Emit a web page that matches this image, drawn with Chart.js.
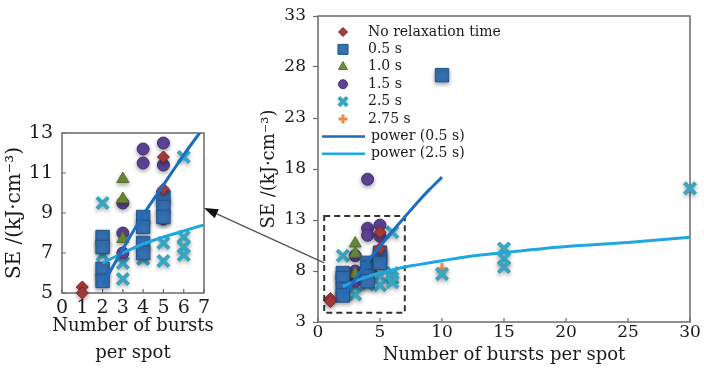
<!DOCTYPE html>
<html>
<head>
<meta charset="utf-8">
<script src="https://cdn.jsdelivr.net/npm/chart.js@4.4.1/dist/chart.umd.min.js"></script>
<style>
  html, body { margin: 0; padding: 0; background: #fff; }
  #wrap { position: relative; width: 704px; height: 368px; overflow: hidden; }
  #main { position: absolute; left: 0; top: 0; }
  #inset { position: absolute; left: 0; top: 110px; }
</style>
</head>
<body>
<div id="wrap">
  <canvas id="main" width="704" height="368"></canvas>
  <canvas id="inset" width="232" height="258"></canvas>
</div>
<script>
// data: [bursts per spot, SE]
var noRelaxation = [[1, 5.3], [1, 5.0], [5, 11.8], [5, 10.2]];
var relax05 = [[2, 7.8], [2, 7.3], [2, 6.2], [2, 5.6], [4, 8.8], [4, 8.3], [4, 7.5], [4, 7.0],
               [5, 9.8], [5, 9.3], [5, 8.8], [10, 27.2]];
var relax10 = [[2, 6.1], [2, 5.8], [3, 10.7], [3, 9.7], [3, 7.7]];
var relax15 = [[2, 7.4], [3, 9.5], [3, 8.0], [3, 7.0], [4, 12.2], [4, 11.5], [4, 17.0],
               [5, 12.5], [5, 11.4], [5, 9.7], [5, 8.7]];
var relax25 = [[2, 9.5], [2, 6.9], [2, 6.3], [3, 6.5], [3, 5.7], [4, 7.0], [4, 6.7], [5, 7.5], [5, 6.6],
               [6, 11.8], [6, 7.8], [6, 7.3], [6, 6.9], [10, 7.7], [15, 10.2], [15, 9.2], [15, 8.4], [30, 16.1]];
var relax275 = [[10, 8.2]];
// power fit curves
var fit05 = [[2, 5.4], [3, 7.2], [4, 8.9], [5, 10.4], [6, 11.9], [7, 13.3], [8, 14.7], [9, 16.0], [10, 17.2]];
var fit25 = [[2, 6.5], [3, 7.0], [4, 7.45], [5, 7.8], [6, 8.1], [7, 8.4], [8, 8.6], [10, 9.0], [12, 9.4],
             [15, 9.8], [20, 10.4], [25, 10.8], [30, 11.3]];

var mainXTicks = [0, 5, 10, 15, 20, 25, 30];
var mainYTicks = [3, 8, 13, 18, 23, 28, 33];
var insetXTicks = [0, 1, 2, 3, 4, 5, 6, 7];
var insetYTicks = [5, 7, 9, 11, 13];

// zoom box on the main chart and the arrow ends (data units)
var zoomBox = { x0: 0.5, x1: 7, y0: 3.9, y1: 13.4 };
var arrowFrom = [0.5, 8.8];   // main chart
var arrowTo = [7, 9.25];      // inset chart

var FONT = "'DejaVu Serif', serif";
var TXT = '#1a1a1a';
var INSET_LEFT = 0, INSET_TOP = 110;
var insetXTitle = ['Number of bursts', 'per spot'];

var series = [
  { label: 'No relaxation time', data: noRelaxation, style: 'rectRot', r: 6, fill: '#a63c3c', edge: '#7c2828', bw: 1 },
  { label: '0.5 s', data: relax05, style: 'rect', r: 9.5, fill: '#3570b1', edge: '#23548c', bw: 1 },
  { label: '1.0 s', data: relax10, style: 'triangle', r: 7, fill: '#6d8f3b', edge: '#55722b', bw: 1 },
  { label: '1.5 s', data: relax15, style: 'circle', r: 6, fill: '#5c4494', edge: '#43306f', bw: 1 },
  { label: '2.5 s', data: relax25, style: 'crossRot', r: 8, fill: '#3aa5c0', edge: '#3aa5c0', bw: 4 },
  { label: '2.75 s', data: relax275, style: 'cross', r: 6, fill: '#ec8a44', edge: '#ec8a44', bw: 3 }
];
var fits = [
  { label: 'power (0.5 s)', data: fit05, color: '#1c6dbf' },
  { label: 'power (2.5 s)', data: fit25, color: '#1ea8df' }
];

function pts(arr) {
  return arr.map(function (p) { return { x: p[0], y: p[1] }; });
}

function makeDatasets() {
  var out = series.map(function (s) {
    return {
      label: s.label,
      data: pts(s.data),
      pointStyle: s.style,
      pointRadius: s.r,
      pointHoverRadius: s.r,
      backgroundColor: s.fill,
      borderColor: s.edge,
      pointBorderWidth: s.bw,
      showLine: false,
      order: 2,
      clip: false,
      shadow: true
    };
  });
  fits.forEach(function (f) {
    out.push({
      label: f.label,
      data: pts(f.data),
      showLine: true,
      pointRadius: 0,
      borderColor: f.color,
      backgroundColor: f.color,
      borderWidth: 3,
      cubicInterpolationMode: 'monotone',
      order: 1
    });
  });
  return out;
}

function tickList(arr) {
  return function (scale) {
    scale.ticks = arr.map(function (v) { return { value: v }; });
  };
}

// plot frame, drawn under the markers
var frame = {
  id: 'frame',
  beforeDatasetsDraw: function (chart) {
    var a = chart.chartArea, ctx = chart.ctx;
    ctx.save();
    ctx.strokeStyle = '#6a6a6a';
    ctx.lineWidth = 1.5;
    ctx.strokeRect(a.left, a.top, a.right - a.left, a.bottom - a.top);
    ctx.restore();
  }
};

// short tick marks pointing into the plot
var innerTicks = {
  id: 'innerTicks',
  beforeDatasetsDraw: function (chart, args, opts) {
    var a = chart.chartArea, ctx = chart.ctx;
    ctx.save();
    ctx.strokeStyle = '#6a6a6a';
    ctx.lineWidth = 1.2;
    ctx.beginPath();
    if (opts.x) {
      chart.scales.x.ticks.forEach(function (t) {
        var px = chart.scales.x.getPixelForValue(t.value);
        ctx.moveTo(px, a.bottom);
        ctx.lineTo(px, a.bottom - 4);
      });
    }
    if (opts.y) {
      chart.scales.y.ticks.forEach(function (t) {
        var py = chart.scales.y.getPixelForValue(t.value);
        ctx.moveTo(a.left, py);
        ctx.lineTo(a.left + 4, py);
      });
    }
    ctx.stroke();
    ctx.restore();
  }
};

// soft drop shadow under the markers
var markerShadow = {
  id: 'markerShadow',
  beforeDatasetDraw: function (chart, args) {
    var ds = chart.data.datasets[args.index];
    if (!ds.shadow) return;
    var ctx = chart.ctx;
    ctx.save();
    ctx.shadowColor = 'rgba(0,0,0,0.35)';
    ctx.shadowBlur = 4;
    ctx.shadowOffsetY = 2;
  },
  afterDatasetDraw: function (chart, args) {
    var ds = chart.data.datasets[args.index];
    if (!ds.shadow) return;
    chart.ctx.restore();
  }
};

// two-line x title of the inset, allowed to run wider than the plot
var wideXTitle = {
  id: 'wideXTitle',
  afterDraw: function (chart) {
    var a = chart.chartArea, ctx = chart.ctx;
    var cx = (a.left + a.right) / 2;
    ctx.save();
    ctx.font = "18px " + FONT;
    ctx.fillStyle = TXT;
    ctx.textAlign = 'center';
    ctx.textBaseline = 'middle';
    insetXTitle.forEach(function (line, i) {
      ctx.fillText(line, cx, a.bottom + 33 + i * 27);
    });
    ctx.restore();
  }
};

var insetChart = new Chart(document.getElementById('inset'), {
  type: 'scatter',
  data: { datasets: makeDatasets() },
  options: {
    responsive: false,
    animation: false,
    devicePixelRatio: 1,
    layout: { padding: { left: 0, top: 23, right: 28, bottom: 0 } },
    plugins: {
      legend: { display: false },
      tooltip: { enabled: false },
      innerTicks: { x: true, y: true }
    },
    scales: {
      x: {
        type: 'linear', min: 0, max: 7,
        afterBuildTicks: tickList(insetXTicks),
        ticks: { font: { family: FONT, size: 19, lineHeight: 1 }, color: TXT, padding: 6, maxRotation: 0 },
        grid: { display: false, drawTicks: false },
        border: { display: false },
        title: { display: false },
        afterFit: function (s) { s.height = 75; }
      },
      y: {
        type: 'linear', min: 5, max: 13,
        afterBuildTicks: tickList(insetYTicks),
        ticks: { font: { family: FONT, size: 19, lineHeight: 1 }, color: TXT, padding: 9 },
        grid: { display: false, drawTicks: false },
        border: { display: false },
        title: {
          display: true, text: 'SE /(kJ·cm⁻³)', color: TXT,
          font: { family: FONT, size: 20, lineHeight: 1.2 }, padding: { top: 3, bottom: 0 }
        },
        afterFit: function (s) { s.width = 62; }
      }
    }
  },
  plugins: [frame, innerTicks, markerShadow, wideXTitle]
});

// legend inside the main plot, top-left
var boxLegend = {
  id: 'boxLegend',
  afterDatasetsDraw: function (chart) {
    var a = chart.chartArea, ctx = chart.ctx;
    var rowH = 17.4, y0 = a.top + 16;
    ctx.save();
    ctx.font = "14px " + FONT;
    ctx.textBaseline = 'middle';
    ctx.fillStyle = TXT;
    series.forEach(function (s, i) {
      var y = y0 + i * rowH;
      ctx.save();
      ctx.fillStyle = s.fill;
      ctx.strokeStyle = s.edge;
      ctx.lineWidth = s.bw;
      Chart.helpers.drawPoint(ctx, { pointStyle: s.style, radius: s.r * 0.75, rotation: 0, borderWidth: s.bw }, a.left + 25, y);
      ctx.restore();
      ctx.fillText(s.label, a.left + 50, y);
    });
    fits.forEach(function (f, j) {
      var y = y0 + (series.length + j) * rowH;
      ctx.save();
      ctx.strokeStyle = f.color;
      ctx.lineWidth = 2.5;
      ctx.beginPath();
      ctx.moveTo(a.left + 4, y);
      ctx.lineTo(a.left + 47, y);
      ctx.stroke();
      ctx.restore();
      ctx.fillText(f.label, a.left + 53, y);
    });
    ctx.restore();
  }
};

// dashed zoom box and arrow to the inset
var zoomCallout = {
  id: 'zoomCallout',
  beforeDatasetsDraw: function (chart) {
    var x = chart.scales.x, y = chart.scales.y, ctx = chart.ctx;
    var l = x.getPixelForValue(zoomBox.x0), r = x.getPixelForValue(zoomBox.x1);
    var t = y.getPixelForValue(zoomBox.y1), b = y.getPixelForValue(zoomBox.y0);
    ctx.save();
    ctx.strokeStyle = '#333';
    ctx.lineWidth = 2;
    ctx.setLineDash([6, 4]);
    ctx.strokeRect(l, t, r - l, b - t);
    ctx.restore();
  },
  afterDraw: function (chart) {
    var ctx = chart.ctx;
    var sx = chart.scales.x.getPixelForValue(arrowFrom[0]);
    var sy = chart.scales.y.getPixelForValue(arrowFrom[1]);
    var ex = INSET_LEFT + insetChart.scales.x.getPixelForValue(arrowTo[0]);
    var ey = INSET_TOP + insetChart.scales.y.getPixelForValue(arrowTo[1]);
    var ang = Math.atan2(ey - sy, ex - sx);
    var len = 14, half = 5;
    var bx = ex - Math.cos(ang) * len, by = ey - Math.sin(ang) * len;
    ctx.save();
    ctx.strokeStyle = '#555';
    ctx.lineWidth = 1.3;
    ctx.beginPath();
    ctx.moveTo(sx, sy);
    ctx.lineTo(bx, by);
    ctx.stroke();
    ctx.fillStyle = '#111';
    ctx.beginPath();
    ctx.moveTo(ex, ey);
    ctx.lineTo(bx + Math.sin(ang) * half, by - Math.cos(ang) * half);
    ctx.lineTo(bx - Math.sin(ang) * half, by + Math.cos(ang) * half);
    ctx.closePath();
    ctx.fill();
    ctx.restore();
  }
};

var mainChart = new Chart(document.getElementById('main'), {
  type: 'scatter',
  data: { datasets: makeDatasets() },
  options: {
    responsive: false,
    animation: false,
    devicePixelRatio: 1,
    layout: { padding: { left: 255, top: 16, right: 14, bottom: 0 } },
    plugins: {
      legend: { display: false },
      tooltip: { enabled: false },
      innerTicks: { x: true, y: false }
    },
    scales: {
      x: {
        type: 'linear', min: 0, max: 30,
        afterBuildTicks: tickList(mainXTicks),
        ticks: { font: { family: FONT, size: 17, lineHeight: 1 }, color: TXT, padding: 2, maxRotation: 0 },
        grid: { display: false, drawTicks: false },
        border: { display: false },
        title: {
          display: true, text: 'Number of bursts per spot', color: TXT,
          font: { family: FONT, size: 18, lineHeight: 1.2 }, padding: { top: 0, bottom: 2 }
        },
        afterFit: function (s) { s.height = 46; }
      },
      y: {
        type: 'linear', min: 3, max: 33,
        afterBuildTicks: tickList(mainYTicks),
        ticks: { font: { family: FONT, size: 17, lineHeight: 1 }, color: TXT, padding: 7 },
        grid: { drawOnChartArea: false, tickLength: 5, color: '#6a6a6a', tickWidth: 1.2 },
        border: { display: false },
        title: {
          display: true, text: 'SE /(kJ·cm⁻³)', color: TXT,
          font: { family: FONT, size: 18, lineHeight: 1.2 }, padding: { top: 4, bottom: 0 }
        },
        afterFit: function (s) { s.width = 63; }
      }
    }
  },
  plugins: [frame, innerTicks, zoomCallout, markerShadow, boxLegend]
});
</script>
</body>
</html>
